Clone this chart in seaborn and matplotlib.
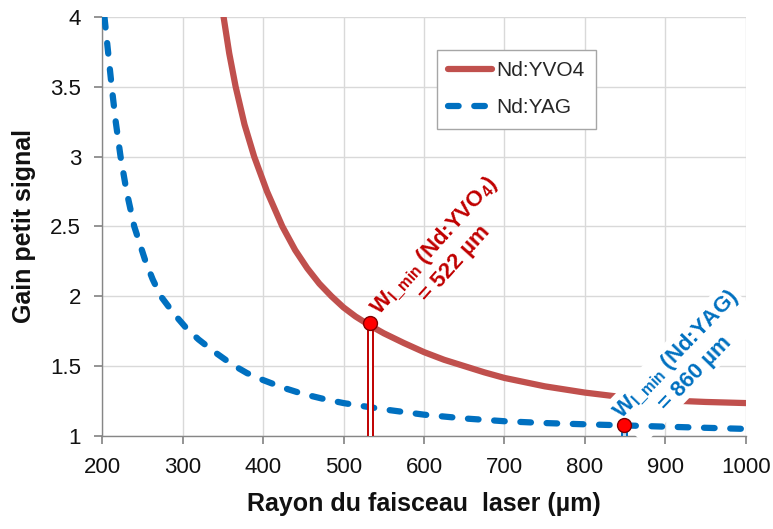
import matplotlib
matplotlib.use('Agg')
import matplotlib.pyplot as plt
import seaborn as sns

# Nd:YVO4 small-signal gain vs beam radius
yvo4_radius = [351, 358, 366, 377, 389, 405, 424, 440, 455, 470, 485, 500, 515,
               533, 550, 575, 600, 625, 650, 675, 700, 750, 800, 850, 900, 950, 1000]
yvo4_gain = [4.00, 3.74, 3.50, 3.23, 3.00, 2.75, 2.50, 2.33, 2.20, 2.09, 2.00, 1.92, 1.855,
             1.79, 1.735, 1.665, 1.60, 1.545, 1.50, 1.455, 1.415, 1.355, 1.31, 1.275,
             1.255, 1.243, 1.235]

# Nd:YAG
yag_radius = [203, 207.5, 212, 217, 223, 230.5, 240, 254, 263, 273, 290, 305, 320,
              340, 362, 380, 400, 425, 450, 475, 500, 550, 600, 650, 700, 750, 800,
              850, 900, 950, 1000]
yag_gain = [4.0, 3.75, 3.5, 3.25, 3.0, 2.75, 2.5, 2.25, 2.12, 2.0, 1.87, 1.77, 1.69,
            1.60, 1.51, 1.45, 1.40, 1.345, 1.30, 1.265, 1.235, 1.19, 1.152, 1.125,
            1.105, 1.092, 1.083, 1.075, 1.066, 1.058, 1.05]

# minimum radius markers
wmin_x = [533, 849]
wmin_y = [1.81, 1.08]
wmin_labels = ['W$_{\\mathrm{l\\_min}}$ (Nd:YVO$_{\\mathrm{4}}$)\n= 522 µm',
               'W$_{\\mathrm{l\\_min}}$ (Nd:YAG)\n= 860 µm']

x_ticks = [200, 300, 400, 500, 600, 700, 800, 900, 1000]
y_ticks = [1, 1.5, 2, 2.5, 3, 3.5, 4]

sns.set_theme(style='whitegrid')
plt.rcParams['font.family'] = ['Liberation Sans', 'DejaVu Sans']
plt.rcParams['mathtext.fontset'] = 'custom'
plt.rcParams['mathtext.rm'] = 'Liberation Sans:bold'
plt.rcParams['mathtext.bf'] = 'Liberation Sans:bold'
plt.rcParams['mathtext.it'] = 'Liberation Sans:bold'

fig, ax = plt.subplots(figsize=(7.73, 5.29), dpi=100, facecolor='white')
fig.subplots_adjust(left=0.132, right=0.965, top=0.968, bottom=0.176)

red = '#C0504D'
blue = '#0070C0'

sns.lineplot(x=yvo4_radius, y=yvo4_gain, ax=ax, color=red, linewidth=4.5,
             label='Nd:YVO4', zorder=2)
sns.lineplot(x=yag_radius, y=yag_gain, ax=ax, color=blue, linewidth=4.5,
             linestyle=(0, (1.7, 2.5)), dash_capstyle='round',
             label='Nd:YAG', zorder=4)

# vertical markers (double line look)
ax.vlines(wmin_x[0], 1, wmin_y[0], color='#C00000', linewidth=5, zorder=5)
ax.vlines(wmin_x[0], 1, wmin_y[0], color='white', linewidth=2.2, zorder=5)
ax.vlines(wmin_x[1], 1, wmin_y[1], color=blue, linewidth=5, zorder=5)
ax.vlines(wmin_x[1], 1, wmin_y[1], color='#BDD7EE', linewidth=2.2, zorder=5)
ax.plot(wmin_x, wmin_y, 'o', color='#FF0000', markeredgecolor='#7F0000',
        markersize=10, markeredgewidth=1, zorder=6)

# rotated annotations
ax.text(625, 2.30, wmin_labels[0], color='#C00000', fontsize=16, fontweight='bold',
        rotation=48, rotation_mode='anchor', ha='center', va='center',
        multialignment='center', zorder=3)
ax.text(925, 1.52, wmin_labels[1], color=blue, fontsize=16, fontweight='bold',
        rotation=46, rotation_mode='anchor', ha='center', va='center',
        multialignment='center', zorder=3,
        bbox=dict(facecolor='white', edgecolor='none', pad=1.5))

ax.set_xlim(200, 1000)
ax.set_ylim(1, 4)
ax.set_xticks(x_ticks)
ax.set_yticks(y_ticks)
ax.set_yticklabels([f'{v:g}' for v in y_ticks])
ax.tick_params(axis='both', bottom=True, left=True, length=6, color='#868686',
               direction='out', pad=9, labelsize=16, labelcolor='#111111')

ax.set_xlabel('Rayon du faisceau  laser (µm)', fontsize=18, fontweight='bold',
              color='#111111', labelpad=10)
ax.set_ylabel('Gain petit signal', fontsize=18, fontweight='bold',
              color='#111111', labelpad=10)

ax.grid(True, color='#D9D9D9', linewidth=1)
for side in ['top', 'right']:
    ax.spines[side].set_visible(False)
for side in ['left', 'bottom']:
    ax.spines[side].set_color('#868686')
    ax.spines[side].set_linewidth(1)

ax.legend(loc='upper left', bbox_to_anchor=(0.52, 0.921), borderaxespad=0,
          frameon=True, fancybox=False, edgecolor='#a6a6a6', framealpha=1,
          fontsize=15, handlelength=2.1, handletextpad=0.2, labelspacing=0.85,
          borderpad=0.55)

plt.savefig('out.png', dpi=100, facecolor='white')
plt.close()
